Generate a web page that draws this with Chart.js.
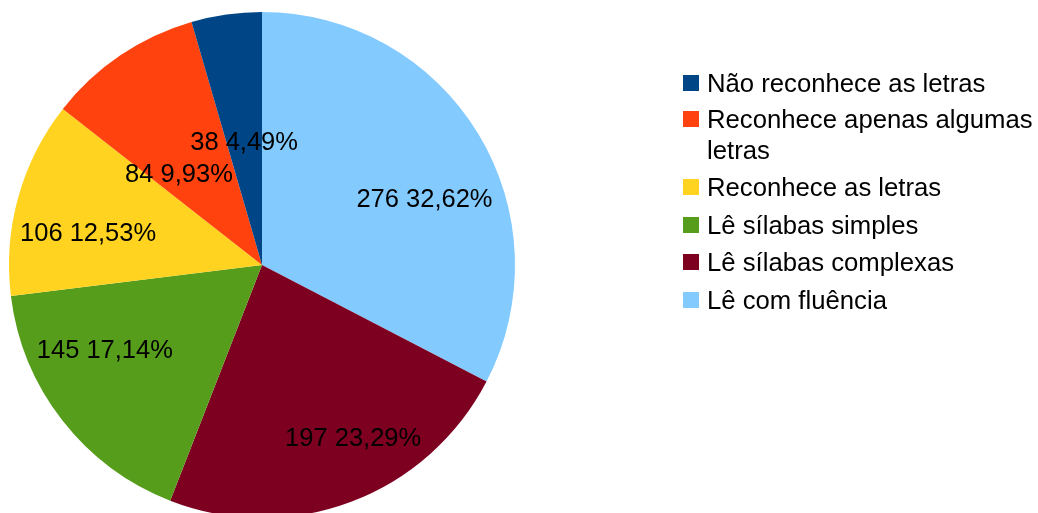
<!DOCTYPE html>
<html>
<head>
<meta charset="utf-8">
<script src="https://cdn.jsdelivr.net/npm/chart.js@4"></script>
<style>
  html, body { margin:0; padding:0; background:#fff; overflow:hidden; width:1038px; height:513px; }
  #pie { position:absolute; left:0; top:0; }
  #legend { position:absolute; left:683px; top:68px; font-family:"Liberation Sans", Arial, sans-serif; font-size:25.7px; line-height:31px; color:#000; }
  .item { position:relative; padding-left:24px; width:335px; margin-bottom:6.5px; }
  .item:first-child { margin-bottom:4.5px; }
  .item .sw { position:absolute; left:0; top:7px; width:16px; height:16px; }
</style>
</head>
<body>
<canvas id="pie" width="1038" height="530"></canvas>
<div id="legend"></div>
<script>
// legend order (as shown in the reference)
const categories = ['Não reconhece as letras', 'Reconhece apenas algumas letras', 'Reconhece as letras',
                    'Lê sílabas simples', 'Lê sílabas complexas', 'Lê com fluência'];
const counts = [38, 84, 106, 145, 197, 276];
const colors = ['#004586', '#ff420e', '#ffd320', '#579d1c', '#7e0021', '#83caff'];

// label placement tweak per slice: [angle offset from slice middle (deg), radius fraction]
const labelPlace = [[-0.2, 0.491], [-8.2, 0.488], [-5.1, 0.699], [9.5, 0.706], [-7.1, 0.774], [9.2, 0.693]];

const total = counts.reduce((a, b) => a + b, 0);
const pct = v => (v / total * 100).toFixed(2).replace('.', ',') + '%';

// pie is drawn clockwise from the top starting with "Lê com fluência"
const drawLabels = categories.slice().reverse();
const drawCounts = counts.slice().reverse();
const drawColors = colors.slice().reverse();
const drawPlace = labelPlace.slice().reverse();

const sliceLabels = {
  id: 'sliceLabels',
  afterDatasetsDraw(chart) {
    const ctx = chart.ctx;
    const meta = chart.getDatasetMeta(0);
    ctx.save();
    ctx.font = '25.5px "Liberation Sans", Arial, sans-serif';
    ctx.fillStyle = '#000';
    ctx.textAlign = 'center';
    ctx.textBaseline = 'middle';
    meta.data.forEach((arc, i) => {
      const p = arc.getProps(['x', 'y', 'startAngle', 'endAngle', 'outerRadius'], true);
      const mid = (p.startAngle + p.endAngle) / 2 + drawPlace[i][0] * Math.PI / 180;
      const r = p.outerRadius * drawPlace[i][1];
      ctx.fillText(drawCounts[i] + ' ' + pct(drawCounts[i]), p.x + Math.cos(mid) * r, p.y + Math.sin(mid) * r + 1);
    });
    ctx.restore();
  }
};

new Chart(document.getElementById('pie'), {
  type: 'pie',
  data: { labels: drawLabels, datasets: [{ data: drawCounts, backgroundColor: drawColors, borderWidth: 0 }] },
  options: {
    responsive: false, animation: false,
    layout: { padding: { left: 9, top: 12, right: 523, bottom: 12 } },
    plugins: { legend: { display: false }, tooltip: { enabled: false } }
  },
  plugins: [sliceLabels]
});

const legend = document.getElementById('legend');
categories.forEach((c, i) => {
  const d = document.createElement('div');
  d.className = 'item';
  d.innerHTML = '<span class="sw" style="background:' + colors[i] + '"></span>' + c;
  legend.appendChild(d);
});
</script>
</body>
</html>
